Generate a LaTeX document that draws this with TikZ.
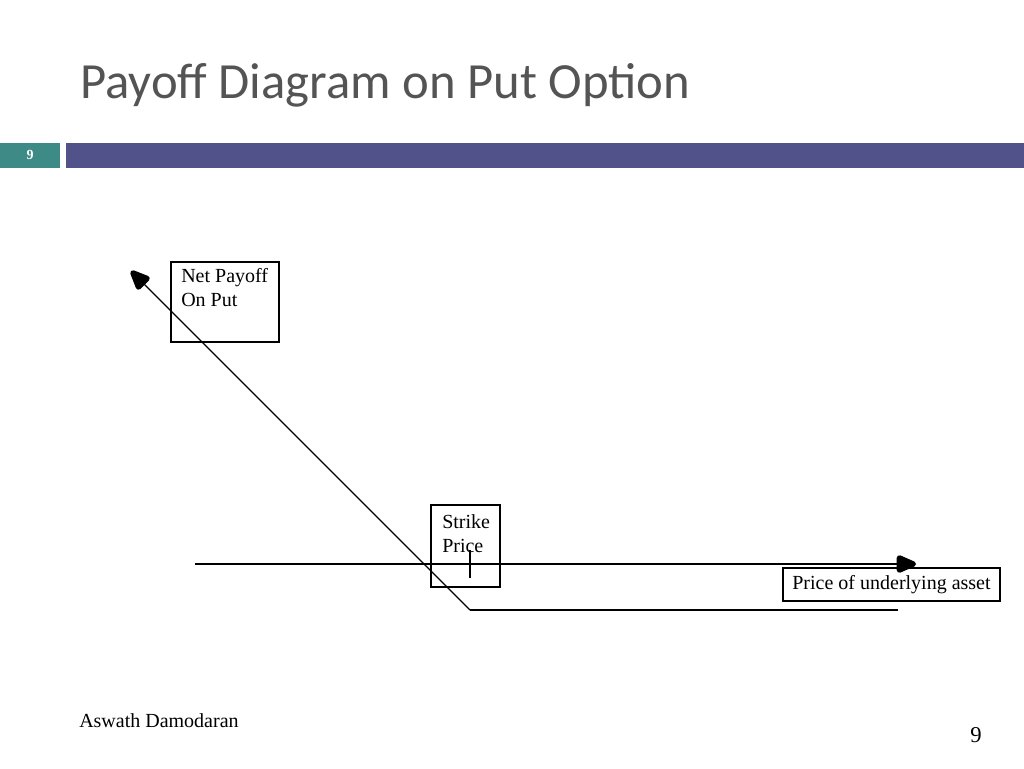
\documentclass[tikz,border=0pt]{standalone}
\usepackage{fontspec}
\setmainfont{Liberation Serif}
\newfontfamily\titlefont{Carlito}
\usetikzlibrary{arrows.meta}
\definecolor{teal9}{HTML}{3E8A87}
\definecolor{bar}{HTML}{52528A}
\definecolor{ttl}{HTML}{545454}
\tikzset{
  txt/.style={inner sep=0pt,font=\fontsize{15}{18}\selectfont},
  ln/.style={line width=0.9pt},
  bigtip/.style={-{Triangle[round,line width=4pt,length=18pt,width=14pt]}}
}
\begin{document}
\begin{tikzpicture}[x=0.75pt,y=-0.75pt]
\useasboundingbox (0,0) rectangle (1024,768);
\node[anchor=base west,inner sep=0pt,text=ttl,font=\titlefont\fontsize{38}{40}\selectfont] (title) at (80,98) {Payoff Diagram on Put Option};
\fill[teal9] (0,143) rectangle (60,168);
\node[text=white,font=\bfseries\fontsize{10.5}{12}\selectfont] (num) at (30,155) {9};
\fill[bar] (66,143) rectangle (1024,168);
% boxes
\draw[line width=0.8pt] (171,262) rectangle (279,342);
\node[txt,anchor=north west,align=left] (np) at (181,268) {Net Payoff\\On Put};
\draw[line width=0.8pt] (431,505) rectangle (500,587);
\node[txt,anchor=north west,align=left] (sp) at (442,514) {Strike\\Price};
\draw[line width=0.8pt] (783,568) rectangle (1000,601);
\node[txt] (ua) at (891.5,584.5) {Price of underlying asset};
% lines
\coordinate (a0) at (195,564); \coordinate (a1) at (916,564);
\draw[ln,bigtip] (a0) -- (a1);
\coordinate (k) at (470,610); \coordinate (top) at (131,271); \coordinate (e) at (898,610);
\draw[ln,bigtip] (k) -- (top);
\draw[ln] (k) -- (e);
\coordinate (t0) at (470,550); \coordinate (t1) at (470,578);
\draw[ln] (t0) -- (t1);
\node[txt,anchor=base west] (auth) at (79,727) {Aswath Damodaran};
\node[anchor=base,inner sep=0pt,font=\fontsize{17}{20}\selectfont] (pg) at (976,742) {9};
\end{tikzpicture}
\end{document}
